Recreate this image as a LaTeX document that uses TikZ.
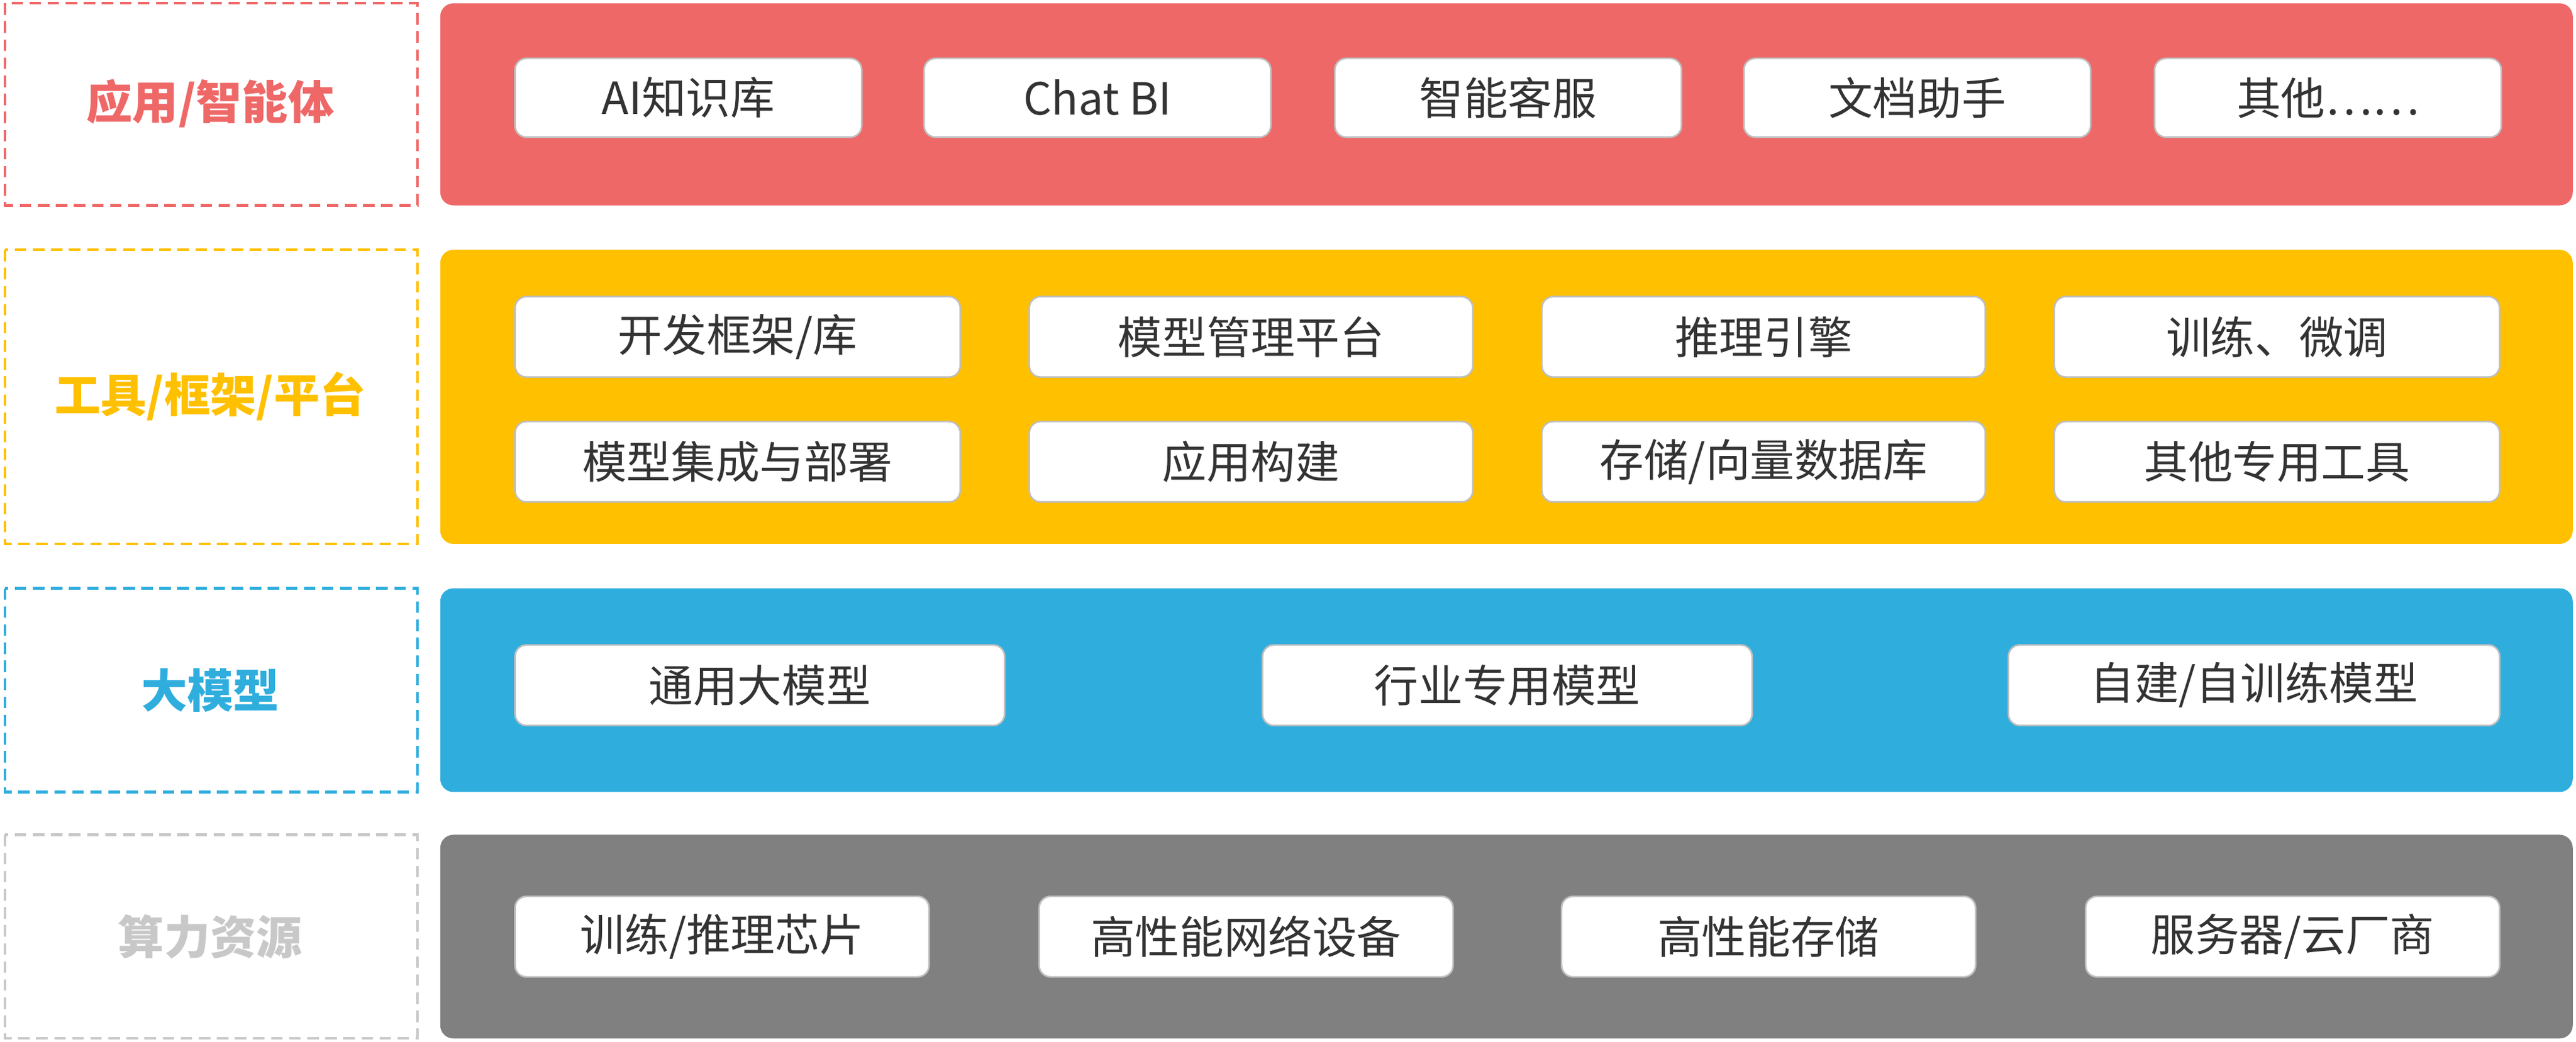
\documentclass[tikz,border=0pt]{standalone}
\usepackage{fontspec}
\setmainfont{Noto Sans CJK SC}
\definecolor{cr}{HTML}{EF6868}
\definecolor{cy}{HTML}{FFC000}
\definecolor{cb}{HTML}{2FAEDE}
\definecolor{cg}{HTML}{808080}
\definecolor{cl}{HTML}{C8C8C8}
\tikzset{
 band/.style={rounded corners=8pt,inner sep=0},
 lab/.style={dashed,line width=1.6pt,dash pattern=on 7pt off 4pt},
 item/.style={draw=black!25,line width=1pt,fill=white,rounded corners=7pt,font=\fontsize{27}{30}\selectfont,text=black!80},
 ltxt/.style={font=\fontsize{28}{32}\selectfont\bfseries}
}
\newcommand{\bx}[6]{\node[item,minimum width=#3pt-#2pt,minimum height=#5pt-#4pt,anchor=north west] (#1) at (#2pt,-#4pt) {#6};}
\begin{document}
\begin{tikzpicture}[x=1pt,y=1pt]
\useasboundingbox (0,0) rectangle (1568,-634);
% left labels
\draw[lab,draw=cr] (3,-2) rectangle (254,-125); \node[ltxt,text=cr] (l1) at (128,-63) {应用/智能体};
\draw[lab,draw=cy] (3,-152) rectangle (254,-331); \node[ltxt,text=cy] (l2) at (128,-241) {工具/框架/平台};
\draw[lab,draw=cb] (3,-358) rectangle (254,-482); \node[ltxt,text=cb] (l3) at (128,-420) {大模型};
\draw[lab,draw=cl] (3,-508) rectangle (254,-632); \node[ltxt,text=cl] (l4) at (128,-570) {算力资源};
% bands
\fill[cr,rounded corners=8pt] (268,-2) rectangle (1566,-125);
\fill[cy,rounded corners=8pt] (268,-152) rectangle (1566,-331);
\fill[cb,rounded corners=8pt] (268,-358) rectangle (1566,-482);
\fill[cg,rounded corners=8pt] (268,-508) rectangle (1566,-632);
% row1
\bx{a1}{313}{524}{35}{83}{AI知识库}
\bx{a2}{562}{773}{35}{83}{Chat BI}
\bx{a3}{812}{1023}{35}{83}{智能客服}
\bx{a4}{1061}{1272}{35}{83}{文档助手}
\bx{a5}{1311}{1522}{35}{83}{其他……}
% row2
\bx{b1}{313}{584}{180}{229}{开发框架/库}
\bx{b2}{626}{896}{180}{229}{模型管理平台}
\bx{b3}{938}{1208}{180}{229}{推理引擎}
\bx{b4}{1250}{1521}{180}{229}{训练、微调}
\bx{b5}{313}{584}{256}{305}{模型集成与部署}
\bx{b6}{626}{896}{256}{305}{应用构建}
\bx{b7}{938}{1208}{256}{305}{存储/向量数据库}
\bx{b8}{1250}{1521}{256}{305}{其他专用工具}
% row3
\bx{c1}{313}{611}{392}{441}{通用大模型}
\bx{c2}{768}{1066}{392}{441}{行业专用模型}
\bx{c3}{1222}{1521}{392}{441}{自建/自训练模型}
% row4
\bx{d1}{313}{565}{545}{594}{训练/推理芯片}
\bx{d2}{632}{884}{545}{594}{高性能网络设备}
\bx{d3}{950}{1202}{545}{594}{高性能存储}
\bx{d4}{1269}{1521}{545}{594}{服务器/云厂商}
\end{tikzpicture}
\end{document}
